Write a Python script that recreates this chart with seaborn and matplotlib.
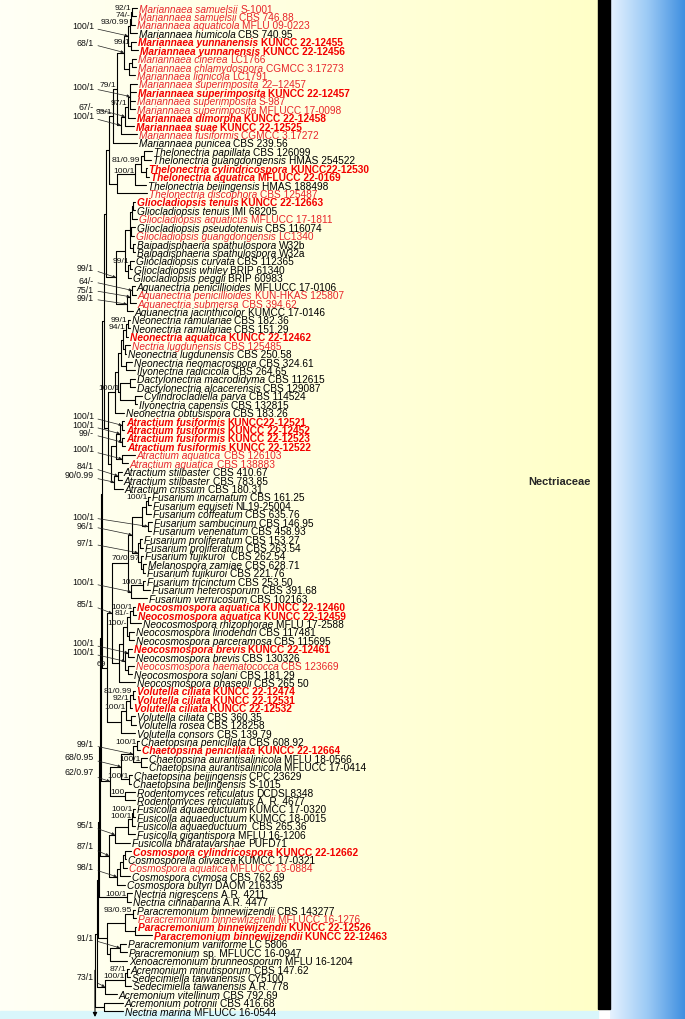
import matplotlib
matplotlib.use("Agg")
import numpy as np
import pandas as pd
import matplotlib.pyplot as plt
import seaborn as sns
from matplotlib.colors import LinearSegmentedColormap
from matplotlib.patches import Rectangle

# %% data: taxa (top to bottom) and their highlight style
# R = new collection (red bold), r = red, k = black
taxa = [
    "Mariannaea samuelsii S-1001", "Mariannaea samuelsii CBS 746.88",
    "Mariannaea aquaticola MFLU 09-0223", "Mariannaea humicola CBS 740.95",
    "Mariannaea yunnanensis KUNCC 22-12455", "Mariannaea yunnanensis KUNCC 22-12456",
    "Mariannaea cinerea LC1766", "Mariannaea chlamydospora CGMCC 3.17273",
    "Mariannaea lignicola LC1791", "Mariannaea superimposita 22\u201312457",
    "Mariannaea superimposita KUNCC 22-12457", "Mariannaea superimposita S-987",
    "Mariannaea superimposita MFLUCC 17-0098", "Mariannaea dimorpha KUNCC 22-12458",
    "Mariannaea suae KUNCC 22-12525", "Mariannaea fusiformis CGMCC 3.17272",
    "Mariannaea punicea CBS 239.56", "Thelonectria papillata CBS 126099",
    "Thelonectria guangdongensis HMAS 254522", "Thelonectria cylindricospora KUNCC22-12530",
    "Thelonectria aquatica MFLUCC 22-0169", "Thelonectria beijingensis HMAS 188498",
    "Thelonectria discophora CBS 125487", "Gliocladiopsis tenuis KUNCC 22-12663",
    "Gliocladiopsis tenuis IMI 68205", "Gliocladiopsis aquaticus MFLUCC 17-1811",
    "Gliocladiopsis pseudotenuis CBS 116074", "Gliocladiopsis guangdongensis LC1340",
    "Baipadisphaeria spathulospora W32b", "Baipadisphaeria spathulospora W32a",
    "Gliocladiopsis curvata CBS 112365", "Gliocladiopsis whiley BRIP 61340",
    "Gliocladiopsis peggii BRIP 60983", "Aquanectria penicillioides MFLUCC 17-0106",
    "Aquanectria penicillioides KUN-HKAS 125807", "Aquanectria submersa CBS 394.62",
    "Aquanectria jacinthicolor KUMCC 17-0146", "Neonectria ramulariae CBS 182.36",
    "Neonectria ramulariae CBS 151.29", "Neonectria aquatica KUNCC 22-12462",
    "Nectria lugdunensis CBS 125485", "Neonectria lugdunensis CBS 250.58",
    "Neonectria neomacrospora CBS 324.61", "Ilyonectria radicicola CBS 264.65",
    "Dactylonectria macrodidyma CBS 112615", "Dactylonectria alcacerensis CBS 129087",
    "Cylindrocladiella parva CBS 114524", "Ilyonectria capensis CBS 132815",
    "Neonectria obtusispora CBS 183.26", "Atractium fusiformis KUNCC22-12521",
    "Atractium fusiformis KUNCC 22-12452", "Atractium fusiformis KUNCC 22-12523",
    "Atractium fusiformis KUNCC 22-12522", "Atractium aquatica CBS 126103",
    "Atractium aquatica CBS 138883", "Atractium stilbaster CBS 410.67",
    "Atractium stilbaster CBS 783.85", "Atractium crissum CBS 180.31",
    "Fusarium incarnatum CBS 161.25", "Fusarium equiseti NL19-25004",
    "Fusarium coffeatum CBS 635.76", "Fusarium sambucinum CBS 146.95",
    "Fusarium venenatum CBS 458.93", "Fusarium proliferatum CBS 153.27",
    "Fusarium proliferatum CBS 263.54", "Fusarium fujikuroi  CBS 262.54",
    "Melanospora zamiae CBS 628.71", "Fusarium fujikuroi CBS 221.76",
    "Fusarium tricinctum CBS 253.50", "Fusarium heterosporum CBS 391.68",
    "Fusarium verrucosum CBS 102163", "Neocosmospora aquatica KUNCC 22-12460",
    "Neocosmospora aquatica KUNCC 22-12459", "Neocosmospora rhizophorae MFLU 17-2588",
    "Neocosmospora liriodendri CBS 117481", "Neocosmospora parceramosa CBS 115695",
    "Neocosmospora brevis KUNCC 22-12461", "Neocosmospora brevis CBS 130326",
    "Neocosmospora haematococca CBS 123669", "Neocosmospora solani CBS 181.29",
    "Neocosmospora phaseoli CBS 265 50", "Volutella ciliata KUNCC 22-12474",
    "Volutella ciliata KUNCC 22-12531", "Volutella ciliata KUNCC 22-12532",
    "Volutella ciliata CBS 360.35", "Volutella rosea CBS 128258",
    "Volutella consors CBS 139.79", "Chaetopsina penicillata CBS 608.92",
    "Chaetopsina penicillata KUNCC 22-12664", "Chaetopsina aurantisalinicola MFLU 18-0566",
    "Chaetopsina aurantisalinicola MFLUCC 17-0414", "Chaetopsina beijingensis CPC 23629",
    "Chaetopsina beijingensis S-1015", "Rodentomyces reticulatus DCDSL8348",
    "Rodentomyces reticulatus A. R. 4677", "Fusicolla aquaeductuum KUMCC 17-0320",
    "Fusicolla aquaeductuum KUMCC 18-0015", "Fusicolla aquaeductuum  CBS 265.36",
    "Fusicolla gigantispora MFLU 16-1206", "Fusicolla bharatavarshae PUFD71",
    "Cosmospora cylindricospora KUNCC 22-12662", "Cosmosporella olivacea KUMCC 17-0321",
    "Cosmospora aquatica MFLUCC 13-0884", "Cosmospora cymosa CBS 762.69",
    "Cosmospora butyri DAOM 216335", "Nectria nigrescens A.R. 4211",
    "Nectria cinnabarina A.R. 4477", "Paracremonium binnewijzendii CBS 143277",
    "Paracremonium binnewijzendii MFLUCC 16-1276", "Paracremonium binnewijzendii KUNCC 22-12526",
    "Paracremonium binnewijzendii KUNCC 22-12463", "Paracremonium variiforme LC 5806",
    "Paracremonium sp. MFLUCC 16-0947", "Xenoacremonium brunneosporum MFLU 16-1204",
    "Acremonium minutisporum CBS 147.62", "Sedecimiella taiwanensis CY5100",
    "Sedecimiella taiwanensis A.R. 778", "Acremonium vitellinum CBS 792.69",
    "Acremonium potronii CBS 416.68", "Nectria marina MFLUCC 16-0544",
]
styles = list("rrrkRRrrrr" "RrrRRrkkkR" "RkrRkrkrkk" "kkkkrrkkkR" "rkkkkkkkkR"
              "RRRrrkkkkk" "kkkkkkkkkk" "kRRkkkRkrk" "kRRRkkkkRk" "kkkkkkkkkk"
              "RkrkkkkkrR" "Rkkkkkkkkk")

# %% topology, newick with leaf numbers; value after ':' = distance from root
# node labels = support (ML/PP), '*' marks a label drawn with a leader arrow
a1 = "(((1:42,2:41)92/1:37,3:40)74/-:36,4:42)93/0.99:35"
a2 = "(5:41,6:43)99/1:36"
a3 = "((7:41,8:41):37,9:40):34"
sub_a = f"(({a1},{a2})100/1*:33,{a3})68/1*:29"
sub_b = "((((10:42,11:41,12:40,13:40)100/1*:35,14:40)97/1:33,15:39)67/-*:30,16:42)100/1*:26"
mariannaea = f"(({sub_a},{sub_b})79/1:22,17:42)93/1:18"
thelonectria = "((((18:57,19:56):49,(20:52,21:54):51)81/0.99:46,22:51)100/1:40,23:52):22"
g1 = "(((24:40,25:40):38,26:42):37,(27:40,28:39):36,(29:40,30:40):38):35"
gliocladiopsis = f"({g1},((31:39,32:37)99/1:35,33:36):33):30"
aquanectria = "(((34:40,35:41)64/-*:37,36:41)75/1*:35,37:38)99/1*:32"
neonectria = ("((((((38:35,39:35)99/1:33,40:33)94/1:31,(41:35,42:31):30):28,"
              "(43:37,44:40):31):26,((45:40,46:40):35,(47:47,48:42):40)100/1:25):23,49:29):20")
atractium = ("((((50:29,51:29)100/1*:27,(52:29,53:30)99/-*:27)100/1*:25,(54:40,55:33)100/1*:27):21,"
             "((56:27,57:27)84/1*:23,58:28)90/0.99*:19):16")
top = (f"((({mariannaea},{thelonectria}):14,({gliocladiopsis},{aquanectria})99/1*:21):11,"
       f"({neonectria},{atractium}):13):9")

f1 = "(((59:55,60:56)100/1:53,61:56):51,(62:57,63:56)100/1*:53):47"
f2 = "((64:47,65:48):45,(66:48,(67:51,68:50):48)70/0.97:46)97/1*:43"
f3 = "((69:50,70:55)100/1:48,71:52)100/1*:36"
fusarium = f"(({f1},{f2})96/1*:37,{f3}):33"
n1 = "(((72:40,73:41)100/1:38,74:46)81/-:35,(75:39,76:39):34)100/-:32"
n2 = "((77:37,78:39)100/1*:33,(79:39,80:37):33)100/1*:30"
neocosmospora = f"(({n1},{n2}):28,81:40):24"
volutella = "((((82:40,83:40)81/0.99:38,84:37)92/1:35,(85:40,86:41):36)100/1:31,87:40):26"
fnv = f"(({fusarium},{neocosmospora})85/1*:17,{volutella})69:12"

chaetopsina = "(((88:44,89:45)100/1:42,(90:52,91:52)100/1:46)99/1*:38,(92:37,93:36)100/1:34)68/0.95*:26"
rodentomyces = "(94:40,95:40)100:30"
fusicolla = "((((96:40,97:40)100/1:38,98:40)100/1:37,99:40):33,100:35)95/1*:20"
cosmospora = "((((101:36,102:31):30,103:32):28,104:35):25,105:30)98/1*:22"
nectria = "(106:37,107:36)100/1:32"
paracremonium = "(((108:40,109:41)93/0.95:38,(110:41,111:57):40):30,((112:31,113:32)91/1*:25,114:32):15):12"
acremonium = "(((115:34,116:35)87/1:32,117:36)100/1:30,118:22)73/1*:10"
outer = "(119:28,120:28):9"

tree_nwk = (f"((((((({top},{fnv}):7,({chaetopsina},{rodentomyces})62/0.97*:15):6,"
            f"({fusicolla},{cosmospora})87/1*:14):5,{nectria}):4,{paracremonium}):3,"
            f"{acremonium}):2,{outer}):0;")


# %% parse
def parse(s):
    pos = 0

    def node():
        nonlocal pos
        kids = []
        if s[pos] == "(":
            pos += 1
            kids.append(node())
            while s[pos] == ",":
                pos += 1
                kids.append(node())
            pos += 1
        start = pos
        while s[pos] not in ":,();":
            pos += 1
        label = s[start:pos]
        depth = 0.0
        if s[pos] == ":":
            pos += 1
            start = pos
            while s[pos] not in ",();":
                pos += 1
            depth = float(s[start:pos])
        return {"kids": kids, "label": label, "depth": depth}

    return node()


root = parse(tree_nwk)
tips = {}
segs = []
supports = []


def layout(n, parent=None):
    if n["kids"]:
        for k in n["kids"]:
            layout(k, n)
        n["y"] = (n["kids"][0]["y"] + n["kids"][-1]["y"]) / 2
        segs.append([(n["depth"], n["kids"][0]["y"]), (n["depth"], n["kids"][-1]["y"])])
        if n["label"]:
            supports.append((n["label"], n["depth"], n["y"]))
    else:
        i = int(n["label"]) - 1
        n["y"] = i
        tips[i] = n["depth"]
    if parent is not None:
        segs.append([(parent["depth"], n["y"]), (n["depth"], n["y"])])


layout(root)
seg_df = pd.DataFrame(
    [{"seg": j, "x": x, "y": y} for j, s in enumerate(segs) for (x, y) in s]
)

# %% figure
sns.set_theme(style="white")
plt.rcParams["font.family"] = ["Liberation Sans", "DejaVu Sans"]

W, H = 685, 1020
ROOT_PX, TOP_PX, ROW_PX = 95, 9, 8.43

fig = plt.figure(figsize=(W / 100, H / 100), dpi=100)

# background panels
bg = fig.add_axes([0, 0, 1, 1])
grad = np.linspace(0, 1, 256)[None, :]
ycmap = LinearSegmentedColormap.from_list("y", ["#fffff6", "#ffffc8"])
bcmap = LinearSegmentedColormap.from_list("b", ["#e6f2ff", "#9ccaf5", "#3f8fe0"])
bg.imshow(grad, extent=(0, 598, 1012, 0), cmap=ycmap, aspect="auto")
bg.imshow(grad, extent=(610, W, H, 0), cmap=bcmap, aspect="auto")
bg.add_patch(Rectangle((598, 0), 12, 1010, color="black"))
bg.add_patch(Rectangle((0, 1012), 598, 8, color="#d9f6fb"))
bg.text(591, 482, "Nectriaceae", ha="right", va="center", weight="bold", fontsize=8)
bg.set_xlim(0, W)
bg.set_ylim(H, 0)
bg.axis("off")

# tree
ax = fig.add_axes([0, 0, 1, 1])
ax.patch.set_alpha(0)
sns.lineplot(data=seg_df, x="x", y="y", units="seg", estimator=None, sort=False,
             color="black", linewidth=0.8, legend=False, ax=ax)
ax.set_xlim(-ROOT_PX, W - ROOT_PX)
ax.set_ylim((H - TOP_PX) / ROW_PX, -TOP_PX / ROW_PX)
ax.axis("off")

# root branch continues to the outgroup
ax.annotate("", xy=(0, (1018 - TOP_PX) / ROW_PX), xytext=(0, root["y"]),
            arrowprops=dict(arrowstyle="-|>", lw=0.8, color="black", mutation_scale=6,
                            shrinkA=0, shrinkB=0))

# support values; leader-arrow labels are stacked so they never collide
callouts = sorted([s for s in supports if s[0].endswith("*")], key=lambda s: s[2])
last_y = -10
for lab, x, y in callouts:
    ty = max(y - 1.2, last_y + 1.05)
    last_y = ty
    ax.annotate(lab[:-1], xy=(x, y), xytext=(-1, ty), ha="right", va="center",
                fontsize=6.3, color="#111111",
                arrowprops=dict(arrowstyle="-|>", lw=0.5, color="#222222",
                                mutation_scale=4, shrinkA=0.5, shrinkB=0))
for lab, x, y in supports:
    if not lab.endswith("*"):
        ax.text(x - 0.6, y - 0.1, lab, ha="right", va="bottom", fontsize=6.1, color="#111111")

# leaf labels: italic binomial + upright strain
colors = {"R": "#f20000", "r": "#e8262b", "k": "black"}
renderer = fig.canvas.get_renderer()
for i, (name, st) in enumerate(zip(taxa, styles)):
    words = name.split(" ")
    n_it = 1 if words[1] == "sp." else 2
    binom, strain = " ".join(words[:n_it]), " ".join(words[n_it:])
    kw = dict(color=colors[st], weight="bold" if st == "R" else "normal",
              fontsize=7.3, va="baseline", ha="left")
    x0 = tips[i] + 1.8
    t = ax.text(x0, i + 0.42, binom, style="italic", **kw)
    w = t.get_window_extent(renderer).width
    ax.text(x0 + w + 2.8, i + 0.42, strain, **kw)

fig.savefig("out.png", dpi=100)
